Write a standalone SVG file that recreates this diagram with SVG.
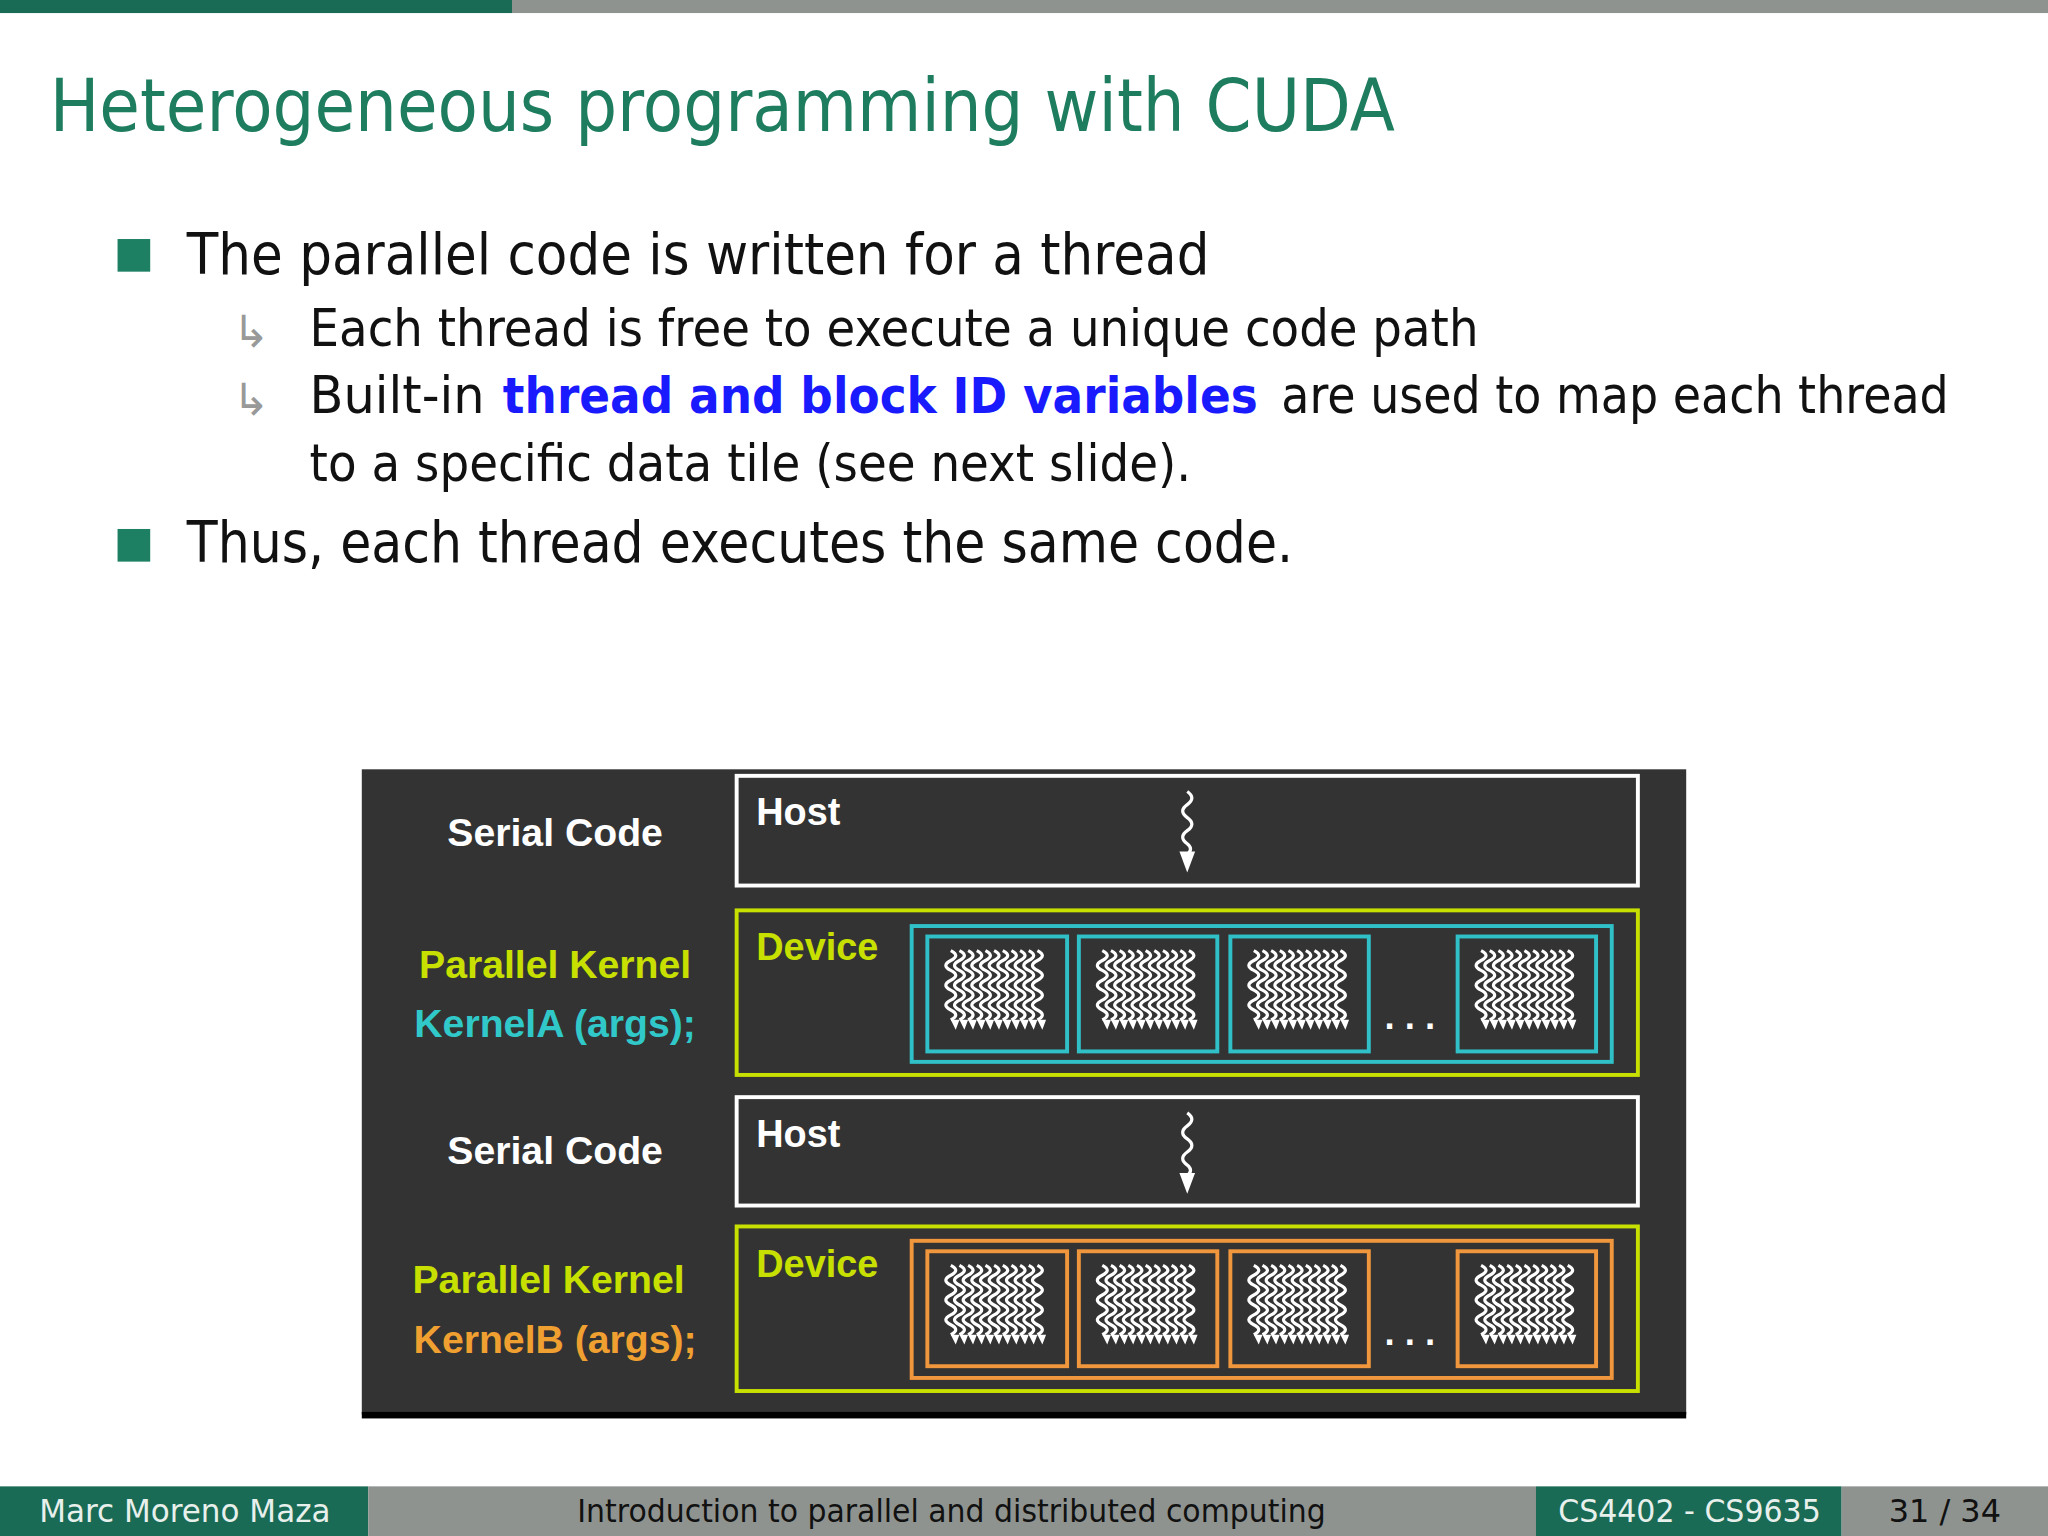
<svg xmlns="http://www.w3.org/2000/svg" width="2048" height="1536" viewBox="0 0 2048 1536">
<defs>
<style>
.s{font-family:"DejaVu Sans","Open Sans",sans-serif;fill:#111}
.b{font-family:"Liberation Sans",Arial,sans-serif;font-weight:bold}
.box{fill:none;stroke-width:3}
.ft{font-family:"DejaVu Sans",sans-serif;font-size:25px}
</style>
<path id="z" d="M8 4 q8 4 0 8 q-8 4 0 8 q8 4 0 8 q-8 4 0 8 q8 4 0 8 q-8 4 0 8 q8 4 0 8"/>
<symbol id="thr" viewBox="0 0 90 76" overflow="visible">
<g fill="none" stroke="#fff" stroke-width="2.6">
<use href="#z"/><use href="#z" x="7"/><use href="#z" x="14"/><use href="#z" x="21"/><use href="#z" x="28"/><use href="#z" x="35"/><use href="#z" x="42"/><use href="#z" x="49"/><use href="#z" x="56"/><use href="#z" x="63"/><use href="#z" x="70"/>
</g>
<path fill="#fff" d="M3 60 h82 l-3 8 l-4 -8 l-3 8 l-4 -8 l-3 8 l-4 -8 l-3 8 l-4 -8 l-3 8 l-4 -8 l-3 8 l-4 -8 l-3 8 l-4 -8 l-3 8 l-4 -8 l-3 8 l-4 -8 l-3 8 l-4 -8 l-3 8 l-4 -8 z"/>
</symbol>
<g id="row">
<use href="#thr" x="720" y="724" width="86" height="72"/>
<use href="#thr" x="836" y="724" width="86" height="72"/>
<use href="#thr" x="952" y="724" width="86" height="72"/>
<use href="#thr" x="1126" y="724" width="86" height="72"/>
</g>
<g id="squig"><path d="M909 606 q7 5 0 10 q-7 5 0 10 q7 5 0 10 q-7 5 0 10 q5 4 0 8" fill="none" stroke="#fff" stroke-width="2.5"/><path d="M903 652 l6 16 l6 -16 z" fill="#fff"/></g>
</defs>
<rect width="2048" height="1536" fill="#fff"/>
<g transform="scale(1.30612)">
<g id="topbar"><rect x="0" y="0" width="392" height="10" fill="#1a6b55"/><rect x="392" y="0" width="1176" height="10" fill="#8f9390"/></g>
<text x="38" y="100" font-family="DejaVu Sans,sans-serif" font-size="56" fill="#1e7d5e" textLength="1030" lengthAdjust="spacingAndGlyphs">Heterogeneous programming with CUDA</text>
<g id="bullets">
<rect x="90" y="183" width="25" height="25" fill="#1e8063"/>
<text class="s" x="143" y="210" font-size="44" textLength="783" lengthAdjust="spacingAndGlyphs">The parallel code is written for a thread</text>
<text x="178" y="266" font-family="DejaVu Sans,sans-serif" font-size="34" fill="#999">↳</text>
<text class="s" x="237" y="265" font-size="40" textLength="895" lengthAdjust="spacingAndGlyphs">Each thread is free to execute a unique code path</text>
<text x="178" y="318" font-family="DejaVu Sans,sans-serif" font-size="34" fill="#999">↳</text>
<text class="s" x="237" y="316" font-size="40" textLength="134" lengthAdjust="spacingAndGlyphs">Built-in</text>
<text x="385" y="316" font-family="DejaVu Sans,sans-serif" font-weight="bold" font-size="38" fill="#1a1aff" textLength="578" lengthAdjust="spacingAndGlyphs">thread and block ID variables</text>
<text class="s" x="981" y="316" font-size="40" textLength="511" lengthAdjust="spacingAndGlyphs">are used to map each thread</text>
<text class="s" x="237" y="368" font-size="40" textLength="675" lengthAdjust="spacingAndGlyphs">to a specific data tile (see next slide).</text>
<rect x="90" y="405" width="25" height="25" fill="#1e8063"/>
<text class="s" x="143" y="430" font-size="44" textLength="847" lengthAdjust="spacingAndGlyphs">Thus, each thread executes the same code.</text>
</g>
<g id="diagram">
<rect x="277" y="589" width="1014" height="494" fill="#333"/>
<rect x="277" y="1081" width="1014" height="5" fill="#000"/>
<g class="b" font-size="30" text-anchor="middle">
<text x="425" y="648" fill="#fff">Serial Code</text>
<text x="425" y="749" fill="#c8e000">Parallel Kernel</text>
<text x="425" y="794" fill="#30c8c8">KernelA (args);</text>
<text x="425" y="891" fill="#fff">Serial Code</text>
<text x="420" y="990" fill="#c8e000">Parallel Kernel</text>
<text x="425" y="1036" fill="#f0a030">KernelB (args);</text>
</g>
<g id="host1"><rect class="box" x="564" y="594" width="690" height="84" stroke="#fff"/><text class="b" x="579" y="632" font-size="29" fill="#fff">Host</text><use href="#squig"/></g>
<g id="dev1">
<rect class="box" x="564" y="697" width="690" height="126" stroke="#c8e000"/>
<text class="b" x="579" y="735" font-size="29" fill="#c8e000">Device</text>
<rect class="box" x="698" y="709" width="536" height="104" stroke="#30c0c8"/>
<g stroke="#30c0c8" class="box"><rect x="710" y="717" width="107" height="88"/><rect x="826" y="717" width="106" height="88"/><rect x="942" y="717" width="106" height="88"/><rect x="1116" y="717" width="106" height="88"/></g>
<use href="#row"/>
<text class="b" x="1060" y="788" font-size="28" fill="#fff">. . .</text>
</g>
<g id="host2"><rect class="box" x="564" y="840" width="690" height="83" stroke="#fff"/><text class="b" x="579" y="878" font-size="29" fill="#fff">Host</text><use href="#squig" y="246"/></g>
<g id="dev2">
<rect class="box" x="564" y="939" width="690" height="126" stroke="#c8e000"/>
<text class="b" x="579" y="978" font-size="29" fill="#c8e000">Device</text>
<rect class="box" x="698" y="950" width="536" height="105" stroke="#f0963c"/>
<g stroke="#f0963c" class="box"><rect x="710" y="958" width="107" height="88"/><rect x="826" y="958" width="106" height="88"/><rect x="942" y="958" width="106" height="88"/><rect x="1116" y="958" width="106" height="88"/></g>
<use href="#row" y="241"/>
<text class="b" x="1060" y="1030" font-size="28" fill="#fff">. . .</text>
</g>
</g>
<g id="footer">
<rect x="0" y="1138" width="282" height="38" fill="#1a6b55"/>
<rect x="282" y="1138" width="894" height="38" fill="#8f9390"/>
<rect x="1176" y="1138" width="234" height="38" fill="#1a6b55"/>
<rect x="1410" y="1138" width="158" height="38" fill="#8f9390"/>
<text class="ft" x="30" y="1165" fill="#e8f0ec" textLength="223" lengthAdjust="spacingAndGlyphs">Marc Moreno Maza</text>
<text class="ft" x="442" y="1165" fill="#111" textLength="573" lengthAdjust="spacingAndGlyphs">Introduction to parallel and distributed computing</text>
<text class="ft" x="1193" y="1165" fill="#e8f0ec" textLength="201" lengthAdjust="spacingAndGlyphs">CS4402 - CS9635</text>
<text class="ft" x="1446" y="1165" fill="#111" textLength="86" lengthAdjust="spacingAndGlyphs">31 / 34</text>
</g>
</g>
</svg>
